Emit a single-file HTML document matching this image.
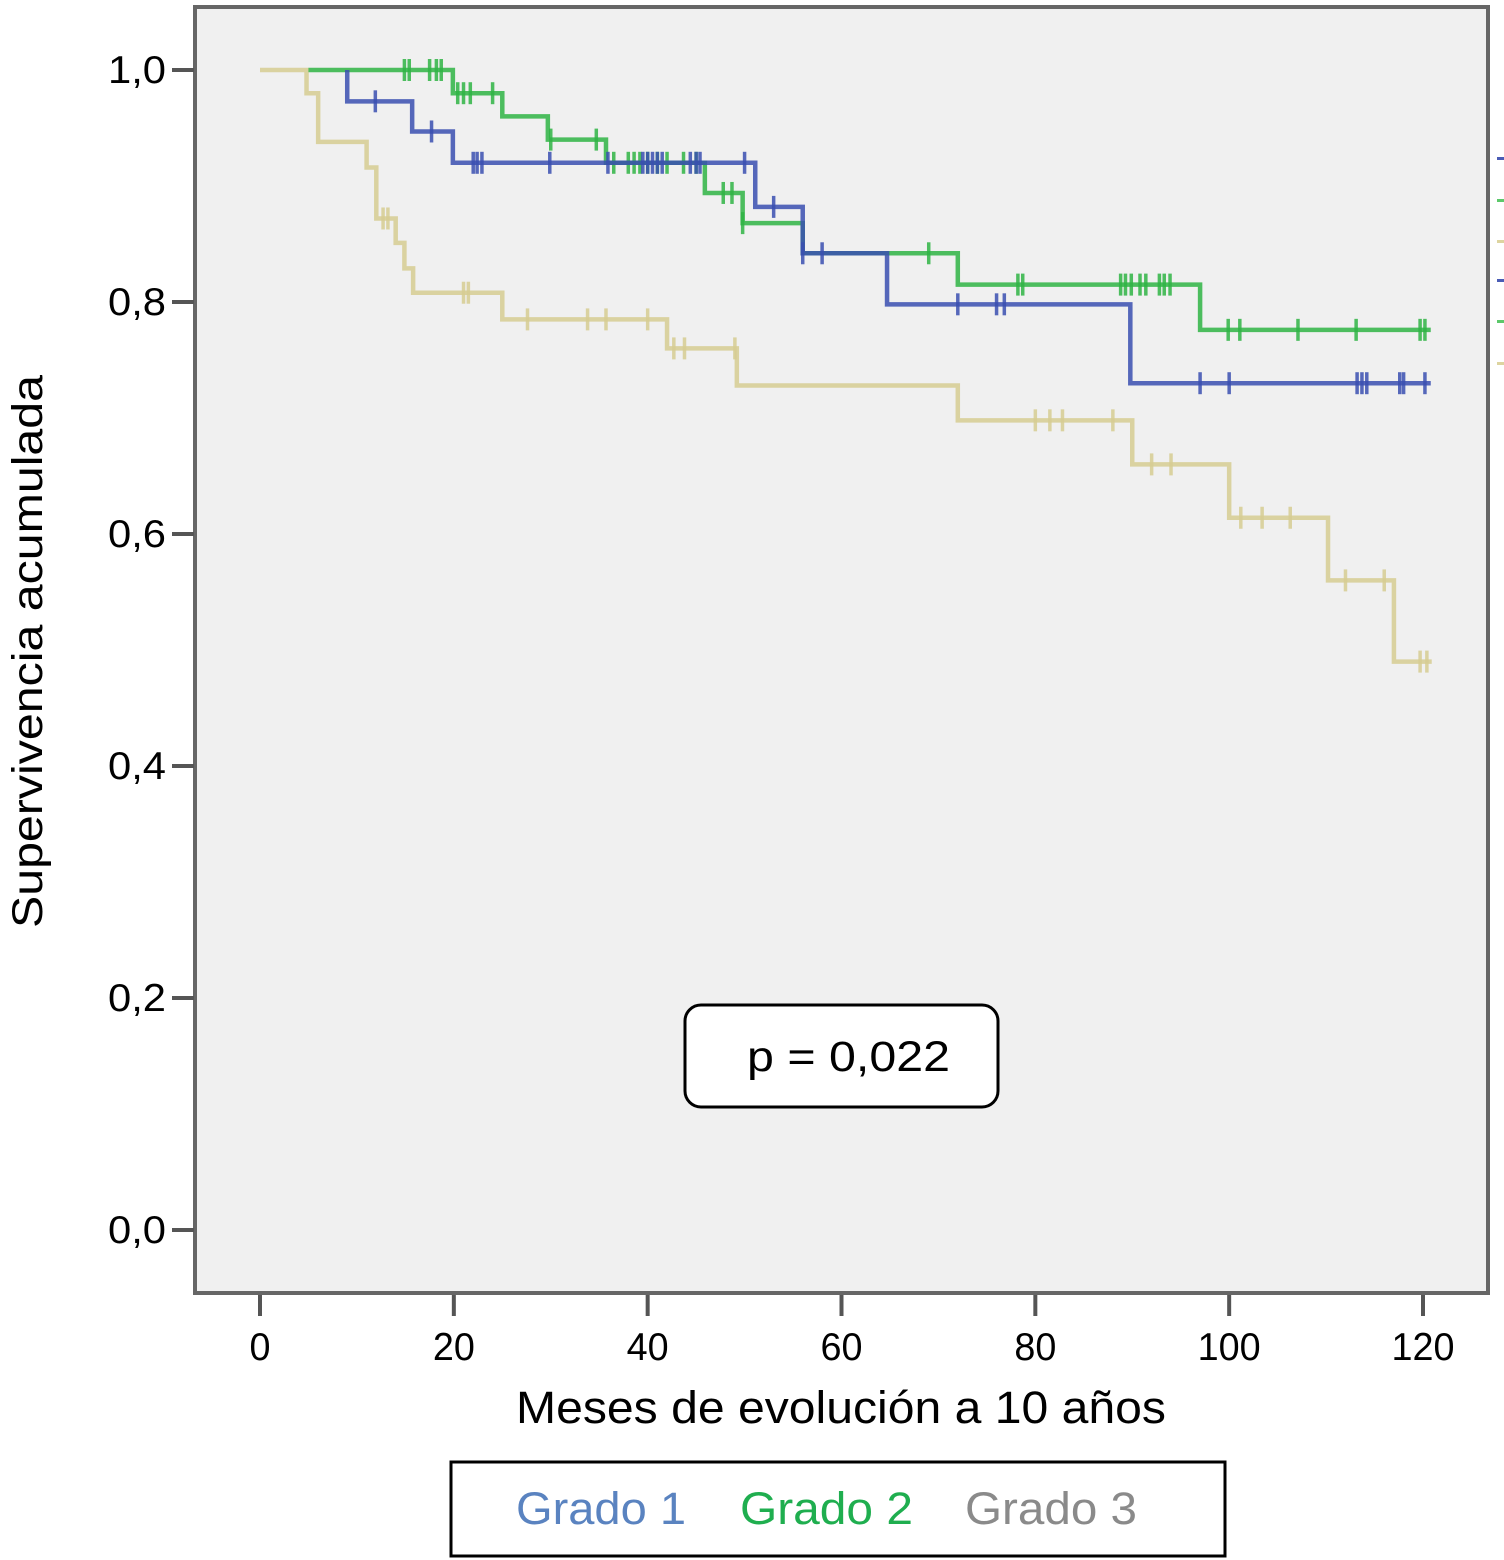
<!DOCTYPE html>
<html><head><meta charset="utf-8"><style>
html,body{margin:0;padding:0;background:#fff}
svg{display:block;font-family:"Liberation Sans",Arial,sans-serif}
</style></head><body>
<svg id="chart" width="1504" height="1560" viewBox="0 0 1504 1560">
<rect x="195" y="7" width="1293" height="1286" fill="#f0f0f0" stroke="#666" stroke-width="4"/>
<g id="axes"></g>
<g id="curves"></g>
<g>
<rect x="1497" y="157" width="8" height="3" fill="#4a5cb5"/>
<rect x="1497" y="199" width="8" height="3" fill="#5cc86a"/>
<rect x="1497" y="240" width="8" height="3" fill="#ddd4a0"/>
<rect x="1497" y="279" width="8" height="3" fill="#4a5cb5"/>
<rect x="1497" y="320" width="8" height="3" fill="#5cc86a"/>
<rect x="1497" y="362" width="8" height="3" fill="#ddd4a0"/>
</g>
<g>
<rect x="685" y="1005" width="313" height="102" rx="16" fill="#fff" stroke="#000" stroke-width="3"/>
<text x="747" y="1071" font-size="43" textLength="203" lengthAdjust="spacingAndGlyphs">p = 0,022</text>
</g>
<text x="516" y="1423" font-size="45" textLength="650" lengthAdjust="spacingAndGlyphs">Meses de evolución a 10 años</text>
<text transform="translate(42,928) rotate(-90)" font-size="43" textLength="553" lengthAdjust="spacingAndGlyphs">Supervivencia acumulada</text>
<g>
<rect x="451" y="1462" width="774" height="94" fill="#fff" stroke="#000" stroke-width="3"/>
<text x="516" y="1524" font-size="45" textLength="170" lengthAdjust="spacingAndGlyphs" fill="#5a83c0">Grado 1</text>
<text x="740" y="1524" font-size="45" textLength="173" lengthAdjust="spacingAndGlyphs" fill="#1fae4f">Grado 2</text>
<text x="965" y="1524" font-size="45" textLength="172" lengthAdjust="spacingAndGlyphs" fill="#8a8a8a">Grado 3</text>
</g>
</svg>
<script>
const xTicks=[0,20,40,60,80,100,120];
const yTicks=[0,0.2,0.4,0.6,0.8,1.0];
const yTickLabels=["0,0","0,2","0,4","0,6","0,8","1,0"];
// Grade 1 (blue)
const g1Start=9;
const g1Times=[9,15.7,19.9,51.1,56,64.7,89.8];
const g1Surv=[0.973,0.947,0.92,0.882,0.842,0.798,0.73];
const g1Censor=[11.9,17.7,22,22.4,22.9,29.9,35.9,39.5,40,40.5,41,41.5,44.4,45,45.4,50,53,56,58,72,76,76.8,97,100,113.2,113.7,114.2,117.6,118,120.2];
// Grade 2 (green)
const g2Start=5;
const g2Times=[19.9,25,29.7,35.7,45.9,49.8,56,72,97];
const g2Surv=[0.98,0.96,0.94,0.92,0.894,0.868,0.842,0.815,0.776];
const g2Censor=[14.9,15.4,17.5,18.2,18.7,20.4,21,21.7,24,30,34.7,36.5,38,38.6,39.2,40,41,42,43.7,45,47.8,48.7,49.8,69,78.2,78.7,88.8,89.3,89.9,90.8,91.4,92.8,93.3,93.9,99.9,101.1,107.1,113.1,119.7,120.2];
// Grade 3 (yellow)
const g3Start=0;
const g3Times=[4.8,6,11,12,14,14.9,15.8,25,42,49.2,72,90,100,110.2,117];
const g3Surv=[0.98,0.938,0.916,0.872,0.851,0.829,0.808,0.785,0.76,0.728,0.698,0.66,0.614,0.56,0.49];
const g3Censor=[12.7,13.2,21,21.5,27.6,33.8,35.7,40,42.7,43.8,49,80,81.5,82.8,88,92,94,101.2,103.4,106.3,112,116,119.7,120.4];

const NS="http://www.w3.org/2000/svg";
const X=t=>260+t*(1423-260)/120;
const Y=s=>1230-s*1160;
function mk(tag,attrs,parent){const e=document.createElementNS(NS,tag);for(const k in attrs)e.setAttribute(k,attrs[k]);parent.appendChild(e);return e;}
const axes=document.getElementById('axes');
xTicks.forEach(t=>{
  const l=mk('line',{x1:X(t),x2:X(t),y1:1295,y2:1316,stroke:'#555','stroke-width':4},axes);
  
  
  const w=String(t).length*21;
  const tx=mk('text',{x:X(t),y:1360,'font-size':39,'text-anchor':'middle',textLength:w,lengthAdjust:'spacingAndGlyphs'},axes);
  tx.textContent=t;
  
  
});
yTicks.forEach((v,i)=>{
  const l=mk('line',{x1:172,x2:194,y1:Y(v),y2:Y(v),stroke:'#555','stroke-width':4},axes);
  
  
  const tx=mk('text',{x:108,y:Y(v)+13,'font-size':39,textLength:58,lengthAdjust:'spacingAndGlyphs'},axes);
  tx.textContent=yTickLabels[i];
  
  
});
const curves=document.getElementById('curves');
function survAt(t,times,surv){let s=1;for(let i=0;i<times.length;i++){if(times[i]<=t)s=surv[i];}return s;}
function draw(start,times,surv,cens,color,name){
  let d='M'+X(start)+','+Y(1);
  times.forEach((t,i)=>{d+=' H'+X(t)+' V'+Y(surv[i]);});
  d+=' H'+X(Math.max(120.8,cens[cens.length-1]+0.5));
  const p=mk('path',{d:d,fill:'none',stroke:color,'stroke-width':4.5,'stroke-opacity':0.85},curves);
  
  
  cens.forEach(t=>{
    const y=Y(survAt(t,times,surv));
    const c=mk('line',{x1:X(t),x2:X(t),y1:y-11,y2:y+11,stroke:color,'stroke-width':3.5,'stroke-opacity':0.85},curves);
    
    
  });
}
draw(g3Start,g3Times,g3Surv,g3Censor,'#d6cc92','grado-3');
draw(g2Start,g2Times,g2Surv,g2Censor,'#2fb444','grado-2');
draw(g1Start,g1Times,g1Surv,g1Censor,'#3a4fb0','grado-1');
</script>
</body></html>
